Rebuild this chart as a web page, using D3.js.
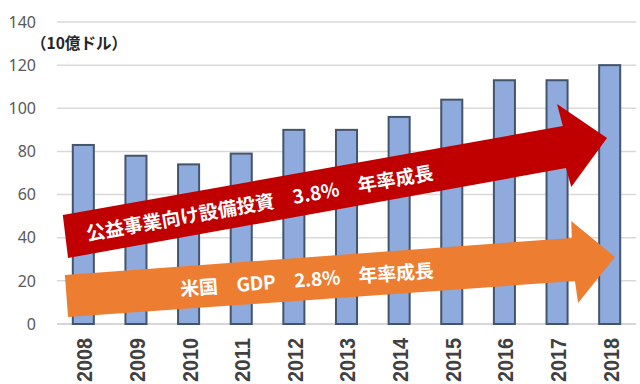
<!DOCTYPE html>
<html>
<head>
<meta charset="utf-8">
<script src="https://cdn.jsdelivr.net/npm/d3@7"></script>
<style>
  html, body { margin: 0; padding: 0; background: #fff; }
</style>
</head>
<body>
<div id="chart"></div>
<script>
// Utility capex bar chart with two growth arrows

const width = 640, height = 384;

const years = ["2008", "2009", "2010", "2011", "2012", "2013", "2014", "2015", "2016", "2017", "2018"];
const values = [83, 78, 74, 79, 90, 90, 96, 104, 113, 113, 120];
const yTicks = [0, 20, 40, 60, 80, 100, 120, 140];
const unitLabel = "（10億ドル）";

// arrow outlines as [year index, value] pairs
const redArrow = [[-0.39, 50.5], [9.11, 91.8], [9.0, 102.0], [9.95, 86.2], [9.27, 63.5], [9.17, 72.3], [-0.29, 30.6]];
const orangeArrow = [[-0.35, 22.7], [9.28, 39.9], [9.27, 47.8], [10.1, 31.1], [9.4, 9.7], [9.34, 19.9], [-0.29, 3.2]];
const redText = "公益事業向け設備投資　3.8%　年率成長";
const orangeText = "米国　GDP　2.8%　年率成長";

const margin = { top: 22, right: 4, bottom: 60, left: 57 };

const svg = d3.select("#chart")
    .append("svg")
    .attr("width", width)
    .attr("height", height);

const x = d3.scaleBand()
    .domain(years)
    .range([margin.left, width - margin.right])
    .paddingInner(0.6)
    .paddingOuter(0.3);

// continuous index scale for the arrows
const xi = d3.scaleLinear()
    .domain([-0.5, years.length - 0.5])
    .range([margin.left, width - margin.right]);

const y = d3.scaleLinear()
    .domain([0, 140])
    .range([height - margin.bottom, margin.top]);

// gridlines
svg.append("g")
    .selectAll("line")
    .data(yTicks)
    .enter()
    .append("line")
    .attr("x1", margin.left)
    .attr("x2", width - margin.right)
    .attr("y1", d => y(d))
    .attr("y2", d => y(d))
    .attr("stroke", d => d === 0 ? "#c8c8c8" : "#d9d9d9")
    .attr("stroke-width", 1.5);

// y tick labels
svg.append("g")
    .selectAll("text")
    .data(yTicks)
    .enter()
    .append("text")
    .attr("x", 36)
    .attr("y", d => y(d))
    .attr("dy", "0.36em")
    .attr("text-anchor", "end")
    .style("font-family", "'Noto Sans', sans-serif")
    .style("font-size", "16px")
    .attr("fill", "#595959")
    .text(d => d);

svg.append("text")
    .attr("x", 31)
    .attr("y", 43)
    .attr("dy", "0.36em")
    .style("font-family", "'Noto Sans CJK JP', sans-serif")
    .style("font-size", "16px")
    .style("font-weight", "bold")
    .attr("fill", "#262626")
    .attr("textLength", 96)
    .attr("lengthAdjust", "spacingAndGlyphs")
    .text(unitLabel);

// bars
svg.append("g")
    .selectAll("rect")
    .data(values)
    .enter()
    .append("rect")
    .attr("x", (d, i) => x(years[i]))
    .attr("y", d => y(d))
    .attr("width", x.bandwidth())
    .attr("height", d => y(0) - y(d))
    .attr("fill", "#8faadc")
    .attr("stroke", "#44546a")
    .attr("stroke-width", 2);

// year labels
svg.append("g")
    .selectAll("text")
    .data(years)
    .enter()
    .append("text")
    .attr("transform", d => `translate(${x(d) + x.bandwidth() / 2 + 1}, 338) rotate(-90)`)
    .attr("text-anchor", "end")
    .attr("dy", "0.36em")
    .style("font-family", "'Liberation Sans', sans-serif")
    .style("font-size", "22px")
    .style("font-weight", "bold")
    .attr("fill", "#404040")
    .attr("textLength", 44)
    .attr("lengthAdjust", "spacingAndGlyphs")
    .text(d => d);

// arrows
const line = d3.line().x(d => xi(d[0])).y(d => y(d[1]));

function drawArrow(pts, color, label, cx, cv, len) {
    svg.append("path")
        .attr("d", line(pts) + "Z")
        .attr("fill", color);
    const p0 = [xi(pts[0][0]), y(pts[0][1])];
    const p1 = [xi(pts[1][0]), y(pts[1][1])];
    const angle = Math.atan2(p1[1] - p0[1], p1[0] - p0[0]) * 180 / Math.PI;
    svg.append("text")
        .attr("transform", `translate(${xi(cx)}, ${y(cv)}) rotate(${angle})`)
        .attr("text-anchor", "middle")
        .attr("dy", "0.36em")
        .style("font-family", "'Noto Sans CJK JP', sans-serif")
        .style("font-size", "19px")
        .style("font-weight", "bold")
        .attr("fill", "#fff")
        .attr("textLength", len)
        .attr("lengthAdjust", "spacing")
        .text(label);
}

drawArrow(orangeArrow, "#ed7d31", orangeText, 4.25, 20.5, 254);
drawArrow(redArrow, "#c00000", redText, 3.35, 56.0, 352);
</script>
</body>
</html>
